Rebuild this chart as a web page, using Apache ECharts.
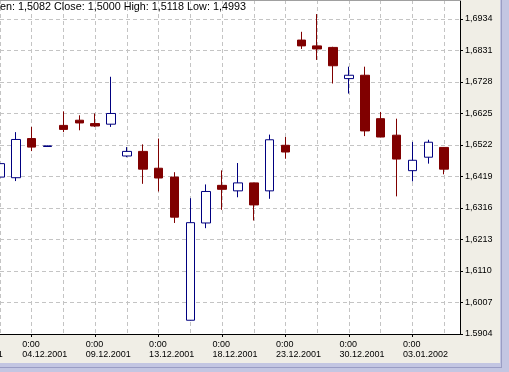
<!DOCTYPE html>
<html><head><meta charset="utf-8">
<script src="https://cdn.jsdelivr.net/npm/echarts@6/dist/echarts.min.js"></script>
<style>html,body{margin:0;padding:0;background:#f0eee6;overflow:hidden}#c{width:509px;height:372px}</style>
</head><body><div id="c"></div>
<script>
const dates = ['02.12.2001','03.12.2001','04.12.2001','05.12.2001','06.12.2001','07.12.2001','09.12.2001','10.12.2001','11.12.2001','12.12.2001',
  '13.12.2001','14.12.2001','16.12.2001','17.12.2001','18.12.2001','19.12.2001','20.12.2001','21.12.2001','23.12.2001','24.12.2001',
  '26.12.2001','27.12.2001','30.12.2001','31.12.2001','01.01.2002','02.01.2002','03.01.2002','04.01.2002','06.01.2002','07.01.2002'];
const opens  = [1.6417,1.6415,1.6543,1.6517,1.6586,1.6603,1.6592,1.6590,1.6486,1.6501,1.6446,1.6417,1.5949,1.6267,1.6390,1.6372,1.6398,1.6372,1.6521,1.6865,1.6846,1.6841,1.6739,1.6750,1.6608,1.6554,1.6438,1.6482,1.6514];
const closes = [1.6461,1.6540,1.6515,1.6519,1.6573,1.6594,1.6584,1.6625,1.6501,1.6443,1.6414,1.6286,1.6268,1.6370,1.6377,1.6398,1.6326,1.6539,1.6499,1.6846,1.6836,1.6781,1.6750,1.6568,1.6548,1.6476,1.6472,1.6531,1.6443];
const lows   = [1.6400,1.6404,1.6502,1.6516,1.6564,1.6570,1.6581,1.6581,1.6482,1.6395,1.6370,1.6267,1.5948,1.6250,1.6310,1.6351,1.6275,1.6346,1.6477,1.6836,1.6800,1.6723,1.6690,1.6551,1.6547,1.6354,1.6403,1.6461,1.6426];
const highs  = [1.6490,1.6564,1.6581,1.6520,1.6632,1.6619,1.6625,1.6745,1.6515,1.6524,1.6543,1.6433,1.6348,1.6393,1.6439,1.6463,1.6399,1.6556,1.6548,1.6892,1.6950,1.6843,1.6778,1.6778,1.6630,1.6608,1.6532,1.6539,1.6515];
const yTickLabels = ['1.5904','1,6007','1,6110','1,6213','1,6316','1,6419','1,6522','1,6625','1,6728','1,6831','1,6934'];
const yMin = 1.5904, yStep = 0.0103, yMax = 1.6996;
const headerText = 'en: 1,5082 Close: 1,5000 High: 1,5118 Low: 1,4993';
const timeLabel = '0:00';
const cutLabel = '0:00\n29.11.2001';

const candleData = opens.map((o, i) => [o, closes[i], lows[i], highs[i]]);
const chart = echarts.init(document.getElementById('c'), null, {renderer: 'canvas'});
const gridLine = {show: true, lineStyle: {color: '#c4c4c4', type: [4, 3], width: 1}};
const lblFont = {fontFamily: 'Liberation Sans, Arial, sans-serif', fontSize: 9, color: '#000'};
chart.setOption({
  animation: false,
  backgroundColor: '#f0eee6',
  grid: {left: 0, top: 0, width: 460, height: 334, show: true, backgroundColor: '#ffffff', borderWidth: 0},
  xAxis: {
    type: 'category', data: dates, boundaryGap: false,
    axisLine: {show: true, lineStyle: {color: '#000', width: 1}},
    axisTick: {show: true, interval: (i) => i % 4 === 2, length: 3, lineStyle: {color: '#000'}},
    splitLine: Object.assign({interval: (i) => i % 2 === 0}, gridLine),
    axisLabel: Object.assign({interval: (i) => i % 4 === 2, align: 'left', padding: [0, 0, 0, -9.5],
      lineHeight: 10, margin: 6, formatter: (v) => timeLabel + '\n' + v}, lblFont)
  },
  yAxis: {
    type: 'value', position: 'right', min: yMin, max: yMax, interval: yStep, scale: true,
    axisLine: {show: true, lineStyle: {color: '#000', width: 1}},
    axisTick: {show: true, length: 3, lineStyle: {color: '#000'}},
    splitLine: gridLine,
    axisLabel: Object.assign({margin: 5, showMaxLabel: false, formatter: (v) => {
      const k = Math.round((v - yMin) / yStep);
      return (k >= 0 && k < yTickLabels.length && Math.abs(v - (yMin + k * yStep)) < 1e-6) ? yTickLabels[k] : '';
    }}, lblFont)
  },
  series: [{
    type: 'candlestick', data: candleData, barWidth: 9,
    itemStyle: {color: '#ffffff', color0: '#800000', borderColor: '#000080', borderColor0: '#800000', borderWidth: 1}
  }],
  graphic: [
    {type: 'rect', shape: {x: 0, y: 0, width: 461, height: 1}, style: {fill: '#a0a0a0'}, z: 100},
    {type: 'text', x: -41.7, y: 340, style: Object.assign({text: cutLabel, lineHeight: 10, fill: '#000', font: '9px "Liberation Sans", Arial'}), z: 100},
    {type: 'text', x: 0, y: 6.8, style: {text: headerText, fill: '#000', font: '10.8px "Liberation Sans", Arial', verticalAlign: 'middle'}, z: 100},
    {type: 'rect', shape: {x: 500, y: 0, width: 9, height: 372}, style: {fill: '#c3c6e2'}, z: 100},
    {type: 'rect', shape: {x: 0, y: 363, width: 509, height: 9}, style: {fill: '#c3c6e2'}, z: 100},
    {type: 'rect', shape: {x: 501, y: 0, width: 1, height: 368}, style: {fill: '#9a9dc4'}, z: 101},
    {type: 'rect', shape: {x: 0, y: 367, width: 502, height: 1}, style: {fill: '#9a9dc4'}, z: 101}
  ]
});
</script></body></html>
